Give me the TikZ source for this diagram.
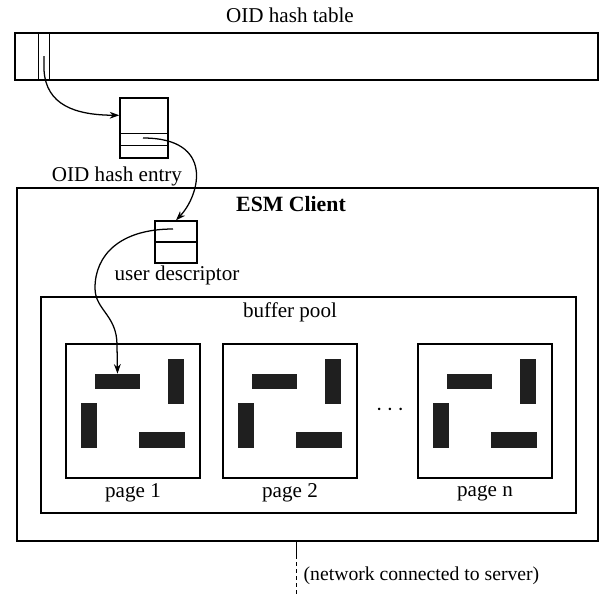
\documentclass[tikz,border=0pt]{standalone}
\usepackage{fontspec}
\setmainfont{Liberation Serif}
\usetikzlibrary{arrows.meta,calc}

\begin{document}
\begin{tikzpicture}[x=0.25mm, y=-0.25mm,
  box/.style={draw, line width=1pt, inner sep=0pt},
  blk/.style={fill=black!88, inner sep=0pt},
  lbl/.style={font=\fontsize{15}{17}\selectfont, inner sep=1pt},
  ptr/.style={-{Stealth[length=2.4mm,width=1.7mm]}, line width=0.9pt}]
\useasboundingbox (0,0) rectangle (600,594);
%
% OID hash table
\node[lbl] (ttitle) at (290,15) {OID hash table};
\node[box, minimum width=145.75mm, minimum height=11.75mm] (table) at (306.5,56.5) {};
\draw[line width=1pt] ($(table.north west)+(24,0)$) -- ($(table.south west)+(24,0)$);
\draw[line width=1pt] ($(table.north west)+(35,0)$) -- ($(table.south west)+(35,0)$);
\coordinate (slot) at (44,56);

% OID hash entry
\node[box, minimum width=12mm, minimum height=15mm] (entry) at (144,128) {};
\draw[line width=1pt] ($(entry.north west)+(0,36)$) -- ($(entry.north east)+(0,36)$);
\draw[line width=1pt] ($(entry.north west)+(0,48)$) -- ($(entry.north east)+(0,48)$);
\node[lbl] (tentry) at (117,176) {OID hash entry};
\coordinate (ptrA) at (143,138);

% ESM Client
\node[box, minimum width=145.25mm, minimum height=88.25mm] (esm) at (307.5,364.5) {};
\node[lbl, font=\fontsize{15.5}{17}\selectfont\bfseries] (tesm) at (291,204) {ESM Client};

% user descriptor
\node[box, minimum width=10.5mm, minimum height=10.5mm] (udesc) at (176,242) {};
\draw[line width=1pt] (udesc.west) -- (udesc.east);
\node[lbl] (tudesc) at (177,275) {user descriptor};
\coordinate (ptrB) at (173,229);

% buffer pool
\node[box, minimum width=133.75mm, minimum height=54mm] (pool) at (308.5,405) {};
\node[lbl] (tpool) at (290,312) {buffer pool};

% pages
\foreach \x/\n in {66/1, 223/2, 418/n} {
  \node[box, minimum width=33.5mm, minimum height=33.5mm] (page\n) at (\x+67,411) {};
  \node[blk, minimum width=11.25mm, minimum height=3.75mm] (blkA\n) at (\x+51.5,381.5) {};
  \node[blk, minimum width=4mm, minimum height=11.25mm] (blkB\n) at (\x+110,381.5) {};
  \node[blk, minimum width=4mm, minimum height=11.25mm] (blkC\n) at (\x+22.5,425.5) {};
  \node[blk, minimum width=11.5mm, minimum height=4mm] (blkD\n) at (\x+96,440) {};
  \node[lbl] (tpage\n) at (\x+67,493) {page \n};
}
\node[font=\fontsize{18}{18}\selectfont, inner sep=0pt] (dots) at (390,410) {$\cdots$};

% pointers
\draw[ptr] (slot) -- ++(0,14) .. controls (46,105) and (75,115) .. ($(entry.north west)+(0,18)$);
\draw[ptr] (ptrA) .. controls (215,138) and (200,195) .. (udesc.north);
\draw[ptr] (ptrB) .. controls (120,229) and (95,255) .. (95,288)
  .. controls (95,310) and (117,315) .. (117,345) -- (blkA1.north);

% network
\coordinate (netA) at (esm.south -| 296,0);
\coordinate (netB) at (296,555);
\coordinate (netC) at (296,594);
\draw[line width=0.7pt] (netA) -- (netB);
\draw[line width=0.7pt, dash pattern=on 2.5pt off 2.5pt] (netB) -- (netC);
\node[lbl, font=\fontsize{14}{16}\selectfont, anchor=west] (tnet) at (302,576) {(network connected to server)};

\end{tikzpicture}
\end{document}
